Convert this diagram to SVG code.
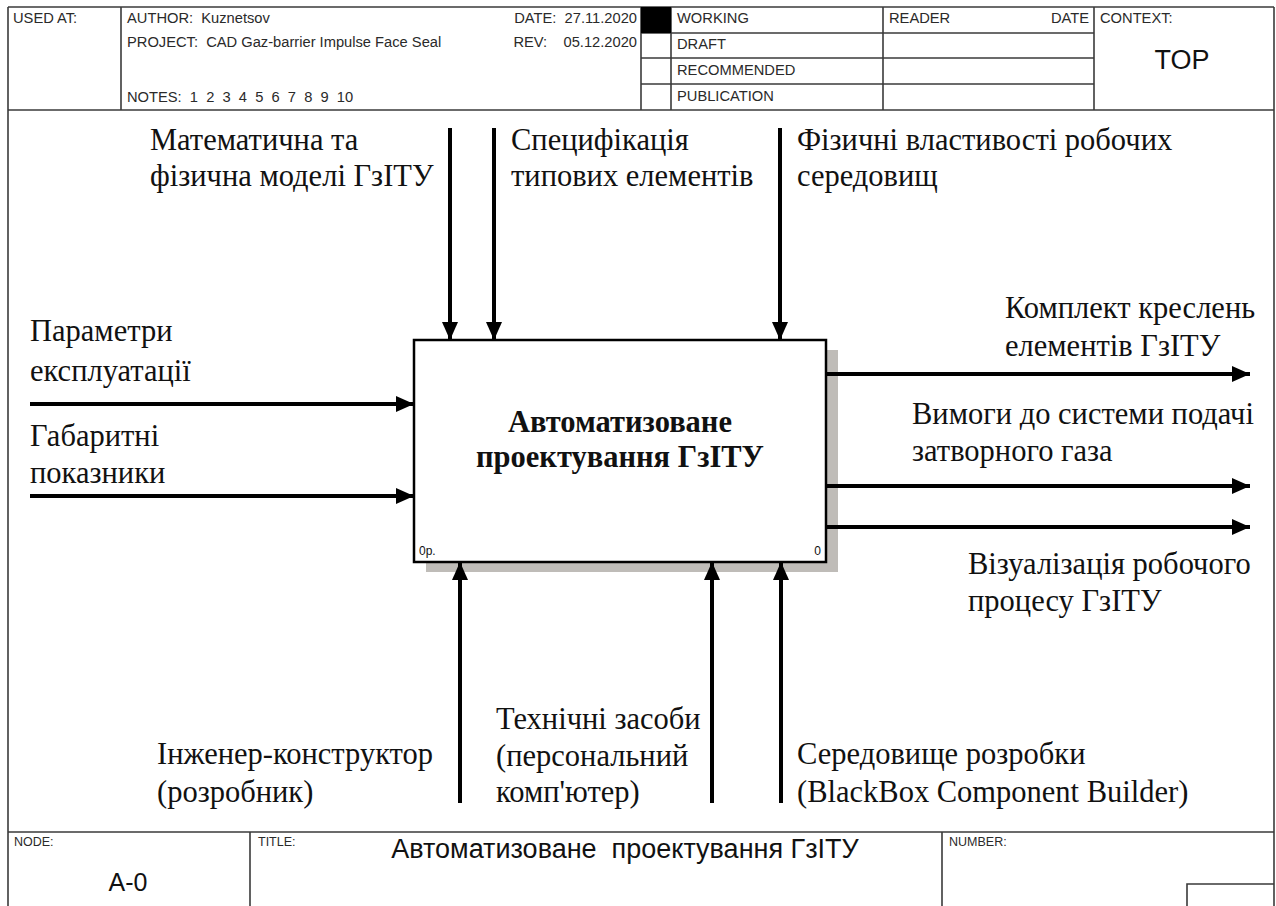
<svg xmlns="http://www.w3.org/2000/svg" width="1276" height="906" viewBox="0 0 1276 906">
  <style>
    .frame { fill: none; stroke: #3a3a3a; stroke-width: 1.6; }
    .hdr { font-family: "Liberation Sans", Arial, sans-serif; font-size: 14.7px; fill: #2a2a2a; white-space: pre; }
    .cap { font-family: "Liberation Sans", Arial, sans-serif; font-size: 12.5px; fill: #2a2a2a; }
    .big { font-family: "Liberation Sans", Arial, sans-serif; fill: #111; white-space: pre; }
    .lbl { font-family: "Liberation Serif", "Times New Roman", serif; font-size: 30.5px; fill: #111; }
    .ttl { font-family: "Liberation Serif", "Times New Roman", serif; font-size: 30.5px; font-weight: bold; fill: #111; }
    .flow { stroke: #000; stroke-width: 4; fill: none; marker-end: url(#arrow); }
    .small { font-family: "Liberation Sans", Arial, sans-serif; font-size: 12px; fill: #111; }
  </style>
  <defs>
    <marker id="arrow" markerUnits="userSpaceOnUse" markerWidth="18" markerHeight="16" refX="18" refY="8" orient="auto">
      <path d="M0,0 L18,8 L0,16 Z" fill="#000"/>
    </marker>
  </defs>

  <rect width="1276" height="906" fill="#fff"/>

  <!-- sheet border -->
  <g id="sheet">
    <line class="frame" x1="8" y1="7" x2="8" y2="906"/>
    <line class="frame" x1="1274" y1="7" x2="1274" y2="906"/>
    <line class="frame" x1="8" y1="7" x2="1274" y2="7"/>
    <line class="frame" x1="8" y1="110" x2="1274" y2="110"/>
    <line class="frame" x1="8" y1="832" x2="1274" y2="832"/>
  </g>

  <!-- header block -->
  <g id="header">
    <line class="frame" x1="121" y1="7" x2="121" y2="110"/>
    <line class="frame" x1="641" y1="7" x2="641" y2="110"/>
    <line class="frame" x1="671" y1="7" x2="671" y2="110"/>
    <line class="frame" x1="883" y1="7" x2="883" y2="110"/>
    <line class="frame" x1="1094" y1="7" x2="1094" y2="110"/>
    <line class="frame" x1="641" y1="33" x2="1094" y2="33"/>
    <line class="frame" x1="641" y1="58" x2="1094" y2="58"/>
    <line class="frame" x1="641" y1="84" x2="1094" y2="84"/>
    <rect x="641" y="7" width="30" height="26" fill="#000"/>

    <text class="hdr" x="13" y="23">USED AT:</text>
    <text class="hdr" x="127" y="23">AUTHOR:  Kuznetsov</text>
    <text class="hdr" x="127" y="47">PROJECT:  CAD Gaz-barrier Impulse Face Seal</text>
    <text class="hdr" x="127" y="102">NOTES:  1  2  3  4  5  6  7  8  9  10</text>
    <text class="hdr" x="637" y="23" text-anchor="end">DATE:  27.11.2020</text>
    <text class="hdr" x="637" y="47" text-anchor="end">REV:    05.12.2020</text>
    <text class="hdr" x="677" y="23">WORKING</text>
    <text class="hdr" x="677" y="49">DRAFT</text>
    <text class="hdr" x="677" y="75">RECOMMENDED</text>
    <text class="hdr" x="677" y="101">PUBLICATION</text>
    <text class="hdr" x="889" y="23">READER</text>
    <text class="hdr" x="1089" y="23" text-anchor="end">DATE</text>
    <text class="hdr" x="1100" y="23">CONTEXT:</text>
    <text class="big" x="1182" y="69" font-size="27" text-anchor="middle">TOP</text>
  </g>

  <!-- footer block -->
  <g id="footer">
    <line class="frame" x1="250" y1="832" x2="250" y2="906"/>
    <line class="frame" x1="942" y1="832" x2="942" y2="906"/>
    <path class="frame" d="M1187,906 V884 H1274"/>
    <text class="cap" x="14" y="846">NODE:</text>
    <text class="big" x="128" y="891" font-size="25" text-anchor="middle">A-0</text>
    <text class="cap" x="258" y="846">TITLE:</text>
    <text class="big" x="625" y="858" font-size="27" text-anchor="middle">Автоматизоване  проектування ГзІТУ</text>
    <text class="cap" x="949" y="846">NUMBER:</text>
  </g>

  <!-- activity box -->
  <g id="node-A0">
    <rect x="426" y="350" width="412" height="222" fill="#bfbcb8"/>
    <rect x="414" y="340" width="412" height="222" fill="#fff" stroke="#000" stroke-width="2.5"/>
    <text class="ttl" x="620" y="432" text-anchor="middle">Автоматизоване</text>
    <text class="ttl" x="620" y="467" text-anchor="middle">проектування ГзІТУ</text>
    <text class="small" x="419" y="555">0р.</text>
    <text class="small" x="821" y="555" text-anchor="end">0</text>
  </g>

  <!-- arrows -->
  <g id="connectors">
    <!-- controls -->
    <line class="flow" x1="450" y1="128" x2="450" y2="340"/>
    <line class="flow" x1="494" y1="128" x2="494" y2="340"/>
    <line class="flow" x1="780" y1="128" x2="780" y2="340"/>
    <!-- inputs -->
    <line class="flow" x1="30" y1="404" x2="414" y2="404"/>
    <line class="flow" x1="30" y1="496" x2="414" y2="496"/>
    <!-- outputs -->
    <line class="flow" x1="826" y1="374" x2="1250" y2="374"/>
    <line class="flow" x1="826" y1="486" x2="1250" y2="486"/>
    <line class="flow" x1="826" y1="527" x2="1250" y2="527"/>
    <!-- mechanisms -->
    <line class="flow" x1="460" y1="803" x2="460" y2="562"/>
    <line class="flow" x1="712" y1="803" x2="712" y2="562"/>
    <line class="flow" x1="781" y1="803" x2="781" y2="562"/>
  </g>

  <!-- arrow labels -->
  <g id="labels">
    <text class="lbl" x="150" y="150">Математична та</text>
    <text class="lbl" x="150" y="186">фізична моделі ГзІТУ</text>
    <text class="lbl" x="511" y="150">Специфікація</text>
    <text class="lbl" x="511" y="186">типових елементів</text>
    <text class="lbl" x="797" y="150">Фізичні властивості робочих</text>
    <text class="lbl" x="797" y="186">середовищ</text>

    <text class="lbl" x="30" y="341">Параметри</text>
    <text class="lbl" x="30" y="381">експлуатації</text>
    <text class="lbl" x="30" y="446">Габаритні</text>
    <text class="lbl" x="30" y="483">показники</text>

    <text class="lbl" x="1005" y="318">Комплект креслень</text>
    <text class="lbl" x="1005" y="356">елементів ГзІТУ</text>
    <text class="lbl" x="912" y="424">Вимоги до системи подачі</text>
    <text class="lbl" x="912" y="461">затворного газа</text>
    <text class="lbl" x="968" y="574">Візуалізація робочого</text>
    <text class="lbl" x="968" y="611">процесу ГзІТУ</text>

    <text class="lbl" x="496" y="729">Технічні засоби</text>
    <text class="lbl" x="496" y="766">(персональний</text>
    <text class="lbl" x="496" y="802">комп'ютер)</text>
    <text class="lbl" x="157" y="764">Інженер-конструктор</text>
    <text class="lbl" x="157" y="802">(розробник)</text>
    <text class="lbl" x="797" y="764">Середовище розробки</text>
    <text class="lbl" x="797" y="802">(BlackBox Component Builder)</text>
  </g>
</svg>
